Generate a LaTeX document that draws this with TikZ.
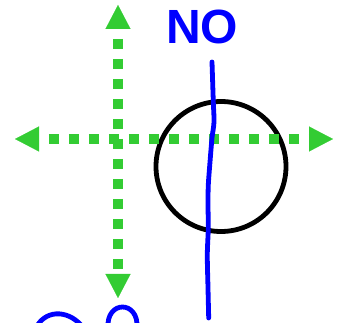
\documentclass[tikz,border=0pt]{standalone}
\usepackage{fontspec}
\setmainfont{Liberation Sans}
\definecolor{axisgreen}{HTML}{33CC33}
\definecolor{penblue}{HTML}{0000FF}
\usetikzlibrary{arrows.meta}
\tikzset{
  axis/.style={line width=10pt, color=axisgreen, dash pattern=on 10pt off 10pt, dash phase=10pt,
               {Triangle[length=24pt,width=25pt,line width=0.1pt]}-{Triangle[length=24pt,width=25pt,line width=0.1pt]}},
  pen/.style={line width=4.8pt, color=penblue, line cap=round, line join=round},
  ring/.style={line width=4.8pt, color=black},
}
\begin{document}
\begin{tikzpicture}[x=1pt,y=-1pt]
  \useasboundingbox (0,0) rectangle (343,323);
  \coordinate (top) at (118,5);
  \coordinate (bottom) at (118,298);
  \coordinate (left) at (15,139);
  \coordinate (right) at (333,139);
  \coordinate (centre) at (221,166.5);
  \draw[ring] (centre) circle[radius=65];
  \draw[axis] (top) -- (bottom);
  \draw[axis] (left) -- (right);
  \draw[pen] plot[smooth] coordinates {(212,62) (213.3,101.7) (214,122) (212,138) (210,162) (208.3,185)
    (208,205) (208.3,228) (207.3,255) (208,288) (208.7,318)};
  \node[text=penblue, font=\fontsize{48}{48}\selectfont\bfseries, inner sep=0pt] (no) at (202,27) {NO};
  \draw[pen] (36,328) .. controls (44,311) and (66,308) .. (82,326);
  \draw[pen] (108,328) .. controls (106,300) and (139,300) .. (137,328);
\end{tikzpicture}
\end{document}
